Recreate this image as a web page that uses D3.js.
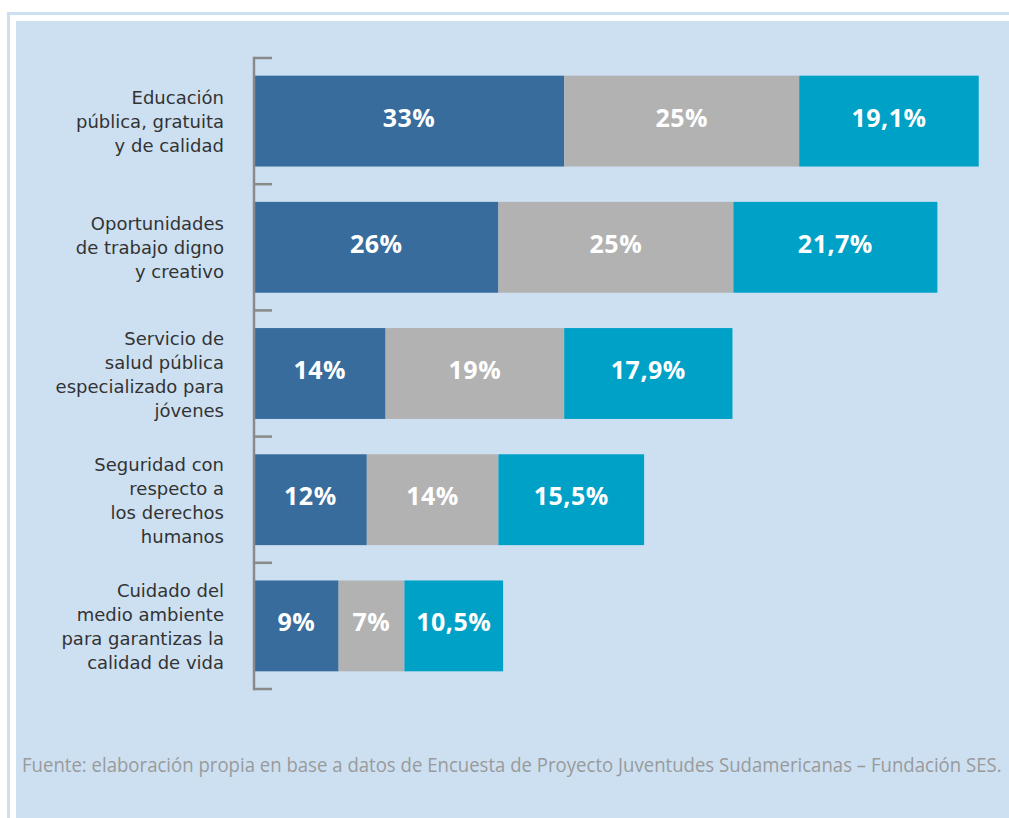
<!DOCTYPE html>
<html>
<head>
<meta charset="utf-8">
<script src="https://cdn.jsdelivr.net/npm/d3@7"></script>
<style>
  body { margin: 0; background: #ffffff; }
  svg { display: block; }
</style>
</head>
<body>
<div id="chart"></div>
<script>
var width = 1009
var height = 818
const margin = {top: 58, left: 254, bottom: 127, right: 3}

// data
var categories = [
    "Educación\npública, gratuita\ny de calidad",
    "Oportunidades\nde trabajo digno\ny creativo",
    "Servicio de\nsalud pública\nespecializado para\njóvenes",
    "Seguridad con\nrespecto a\nlos derechos\nhumanos",
    "Cuidado del\nmedio ambiente\npara garantizas la\ncalidad de vida"
]
var serie1 = [33, 26, 14, 12, 9]
var serie2 = [25, 25, 19, 14, 7]
var serie3 = [19.1, 21.7, 17.9, 15.5, 10.5]
var series = [serie1, serie2, serie3]
var colors = ["#386c9c", "#b2b2b2", "#00a1c7"]
var source = "Fuente: elaboración propia en base a datos de Encuesta de Proyecto Juventudes Sudamericanas – Fundación SES."

var svg, xScale, yScale

createChart()

function fmt(v)
{
    return String(v).replace(".", ",") + "%"
}

function createChart()
{
    svg = d3.select("#chart")
        .append("svg")
        .attr("width", width)
        .attr("height", height)

    // frame
    svg.append("rect")
        .attr("x", 8.5).attr("y", 13.5)
        .attr("width", width + 20).attr("height", height + 20)
        .attr("fill", "none")
        .attr("stroke", "#cce0f2")
        .attr("stroke-width", 3)
    svg.append("rect")
        .attr("x", 16).attr("y", 21)
        .attr("width", width).attr("height", height)
        .attr("fill", "#cce0f2")

    xScale = d3.scaleLinear()
        .domain([0, 80])
        .range([margin.left, margin.left + 752])

    yScale = d3.scaleBand()
        .domain(categories)
        .range([margin.top, height - margin.bottom - 2])
        .paddingInner(0.28)
        .paddingOuter(0.14)

    // stacked rows
    var rows = categories.map(function(c, i)
    {
        var x0 = 0
        return series.map(function(s, k)
        {
            var seg = {cat: c, k: k, v: s[i], x0: x0, x1: x0 + s[i]}
            x0 += s[i]
            return seg
        })
    })
    var segs = rows.flat()

    svg.append("g")
        .selectAll("rect")
        .data(segs)
        .join("rect")
        .attr("x", d => xScale(d.x0))
        .attr("y", d => yScale(d.cat))
        .attr("width", d => xScale(d.x1) - xScale(d.x0))
        .attr("height", yScale.bandwidth())
        .attr("fill", d => colors[d.k])

    svg.append("g")
        .selectAll("text")
        .data(segs)
        .join("text")
        .attr("x", d => (xScale(d.x0) + xScale(d.x1)) / 2)
        .attr("y", d => yScale(d.cat) + yScale.bandwidth() / 2 + 5.5)
        .attr("text-anchor", "middle")
        .attr("fill", "#ffffff")
        .style("font-family", "'Open Sans', sans-serif")
        .style("font-weight", "bold")
        .style("font-size", "25px")
        .style("letter-spacing", "0.5px")
        .text(d => fmt(d.v))

    // axis with ticks pointing right
    var gap = yScale.step() * yScale.paddingInner() / 2
    var tickPos = categories.map(c => yScale(c) - gap)
    tickPos.push(yScale(categories[categories.length - 1]) + yScale.bandwidth() + gap)

    var axis = svg.append("g").attr("stroke", "#8a8a8a").attr("stroke-width", 2.5)
    axis.append("line")
        .attr("x1", margin.left).attr("x2", margin.left)
        .attr("y1", tickPos[0] - 1.25).attr("y2", tickPos[tickPos.length - 1] + 1.25)
    axis.selectAll(".tick")
        .data(tickPos)
        .join("line")
        .attr("class", "tick")
        .attr("x1", margin.left).attr("x2", margin.left + 18)
        .attr("y1", d => d).attr("y2", d => d)

    // category labels
    var lineH = 24
    svg.append("g")
        .selectAll("text")
        .data(categories)
        .join("text")
        .attr("text-anchor", "end")
        .attr("fill", "#333333")
        .style("font-family", "'DejaVu Sans', sans-serif")
        .style("font-size", "18px")
        .each(function(c)
        {
            var lines = c.split("\n")
            var cy = yScale(c) + yScale.bandwidth() / 2 + 1
            var top = cy - (lines.length - 1) * lineH / 2 + 6
            d3.select(this).selectAll("tspan")
                .data(lines)
                .join("tspan")
                .attr("x", 224)
                .attr("y", (l, j) => top + j * lineH)
                .text(l => l)
        })

    // source note, squeezed horizontally to the frame width
    var note = svg.append("text")
        .attr("fill", "#9a9a9a")
        .style("font-family", "'Open Sans', sans-serif")
        .style("font-size", "20px")
        .text(source)
    var len = note.node().getComputedTextLength()
    note.attr("transform", "translate(22,772) scale(" + (980 / len) + ",1)")
}
</script>
</body>
</html>
